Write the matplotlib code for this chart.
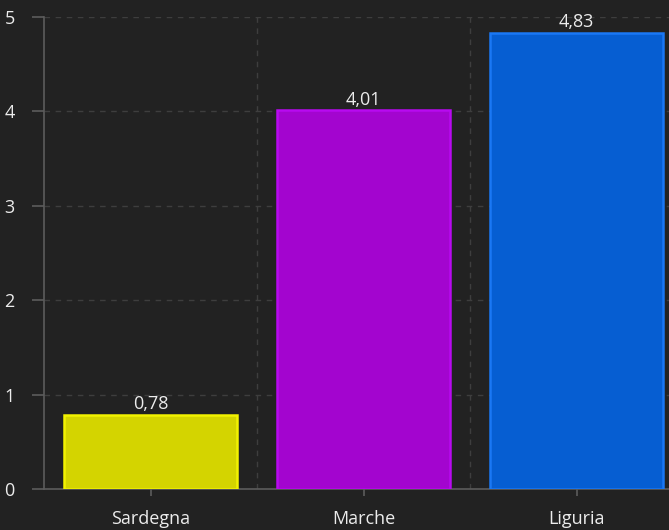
import matplotlib
matplotlib.use("Agg")
import matplotlib.pyplot as plt

categories = ["Sardegna", "Marche", "Liguria"]
values = [0.78, 4.01, 4.83]
value_labels = ["0,78", "4,01", "4,83"]
fill_colors = ["#d4d400", "#a305cf", "#065ed2"]
edge_colors = ["#f2f200", "#b80af0", "#1a78f5"]
yticks = [0, 1, 2, 3, 4, 5]

plt.rcParams['font.family'] = ['Open Sans', 'DejaVu Sans']
bg = "#222222"
fig = plt.figure(figsize=(6.69, 5.30), dpi=100, facecolor=bg)
W, H = 669, 530
left, right, bottom, top = 44, 683, 489, 17
ax = fig.add_axes([left / W, 1 - bottom / H, (right - left) / W, (bottom - top) / H])
ax.set_facecolor(bg)

x = list(range(len(categories)))
ax.bar(x, values, width=0.81, color=fill_colors, edgecolor=edge_colors, linewidth=1.8, zorder=3)
for xi, v, lab in zip(x, values, value_labels):
    ax.text(xi, v + 0.02, lab, ha="center", va="bottom", color="#ececec", fontsize=13, zorder=4)

ax.set_xlim(-0.5, 2.5)
ax.set_ylim(0, 5)
ax.set_yticks(yticks)
ax.set_yticklabels([str(t) for t in yticks])
ax.set_xticks(x)
ax.set_xticklabels(categories)

# grid
for t in yticks[1:]:
    ax.axhline(t, color="#3e3e3e", linestyle=(0, (4, 4)), linewidth=1, zorder=1)
for b in [0.5, 1.5]:
    ax.axvline(b, color="#3e3e3e", linestyle=(0, (4, 4)), linewidth=1, zorder=1)

for s in ["top", "right"]:
    ax.spines[s].set_visible(False)
for s in ["left", "bottom"]:
    ax.spines[s].set_color("#5c5c5c")
    ax.spines[s].set_linewidth(1.2)
ax.tick_params(axis="y", colors="#5c5c5c", labelcolor="#ececec", length=9, width=1.2, pad=12, labelsize=13)
ax.tick_params(axis="x", colors="#5c5c5c", labelcolor="#ececec", length=5, width=1.2, pad=10, labelsize=13)

fig.savefig("out.png", dpi=100, facecolor=bg)
